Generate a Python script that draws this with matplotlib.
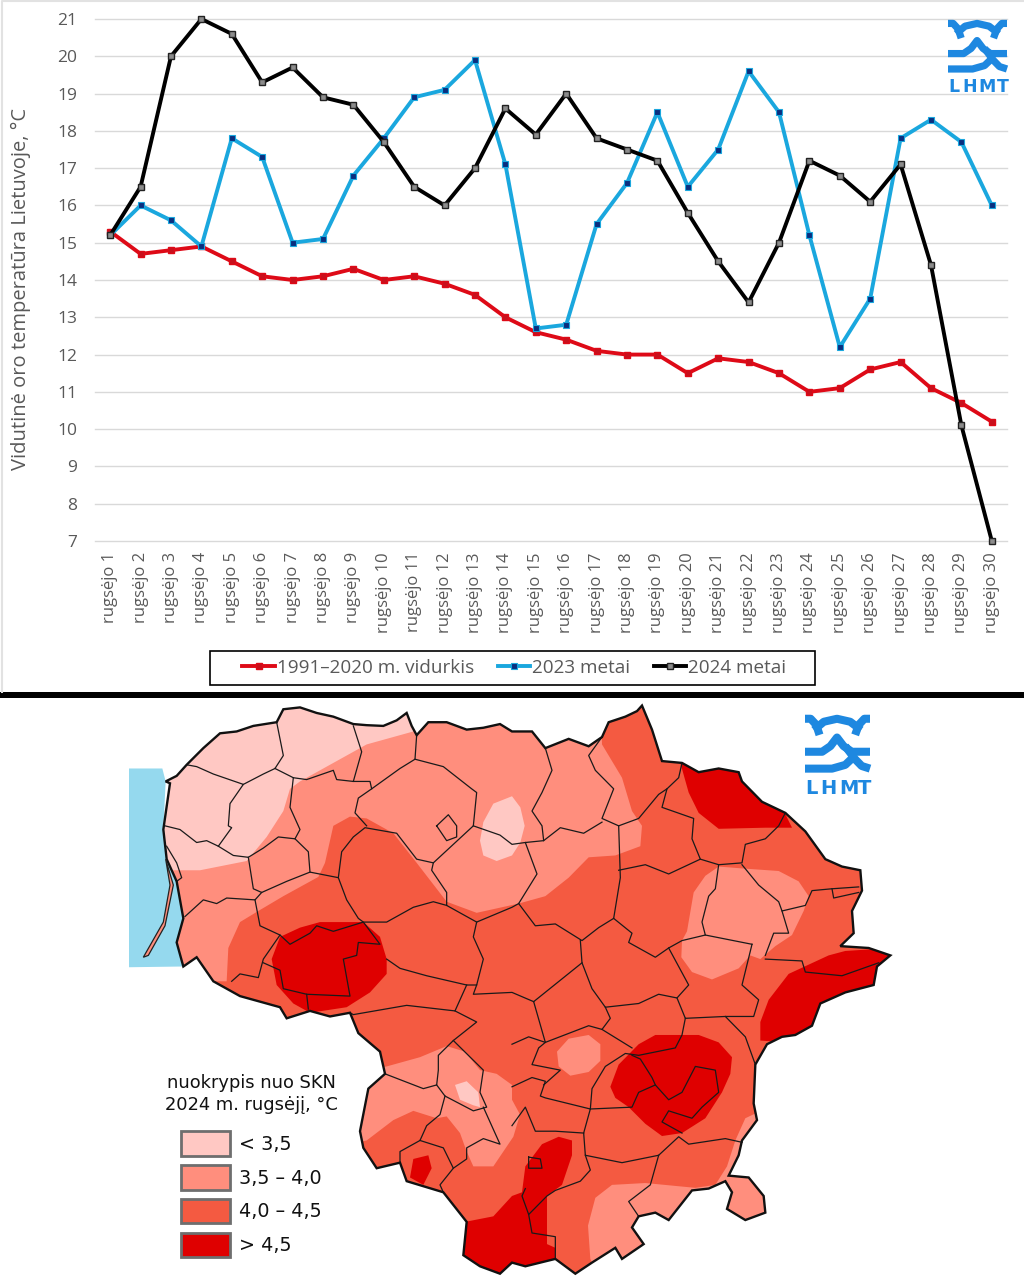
import matplotlib
matplotlib.use("Agg")
import matplotlib.pyplot as plt
from matplotlib.lines import Line2D
from matplotlib.patches import Polygon, Rectangle

W, H = 1024, 1280
plt.rcParams['font.family'] = ['Open Sans', 'DejaVu Sans']

# ---------- line chart data ----------
day_numbers = list(range(1, 31))
day_labels = [f"rugsėjo {d}" for d in day_numbers]
avg_1991_2020 = [15.3, 14.7, 14.8, 14.9, 14.5, 14.1, 14.0, 14.1, 14.3, 14.0, 14.1, 13.9, 13.6, 13.0, 12.6,
                 12.4, 12.1, 12.0, 12.0, 11.5, 11.9, 11.8, 11.5, 11.0, 11.1, 11.6, 11.8, 11.1, 10.7, 10.2]
temp_2023 = [15.2, 16.0, 15.6, 14.9, 17.8, 17.3, 15.0, 15.1, 16.8, 17.8, 18.9, 19.1, 19.9, 17.1, 12.7,
             12.8, 15.5, 16.6, 18.5, 16.5, 17.5, 19.6, 18.5, 15.2, 12.2, 13.5, 17.8, 18.3, 17.7, 16.0]
temp_2024 = [15.2, 16.5, 20.0, 21.0, 20.6, 19.3, 19.7, 18.9, 18.7, 17.7, 16.5, 16.0, 17.0, 18.6, 17.9,
             19.0, 17.8, 17.5, 17.2, 15.8, 14.5, 13.4, 15.0, 17.2, 16.8, 16.1, 17.1, 14.4, 10.1, 7.0]
y_ticks = list(range(7, 22))
series_names = ["1991–2020 m. vidurkis", "2023 metai", "2024 metai"]

# ---------- map data (coordinates of a 3072 x 1567 map grid) ----------
def R(*pts):
    return [(x + 1536, y) for x, y in pts]

outline = [(497,220),(530,205),(560,175),(610,130),(660,90),(710,85),(760,70),(830,60),(850,25),(900,20),(950,35),(1000,45),(1060,65),(1100,68),
           (1150,70),(1190,55),(1220,35),(1235,70),(1250,95),(1285,60),(1340,60),(1400,80),(1450,75),(1500,65),(1536,85)] + \
    R((30,85),(60,85),(100,130),(170,105),(230,125),(270,100),(290,60),(340,45),(375,30),(390,15),(420,80),(450,165),(510,170),(560,195),(620,185),(680,195),
      (690,220),(750,275),(820,305),(880,355),(940,430),(990,450),(1045,460),(1050,515),(1020,570),(1025,630),(985,665),(1070,670),(1135,690),
      (1095,720),(1085,770),(1000,790),(925,820),(900,880),(850,905),(810,910),(765,930),(730,985),(725,1090),(735,1135),(690,1190),
      (680,1230),(650,1285),(710,1290),(755,1340),(760,1385),(700,1405),(645,1375),(660,1330),(640,1300),(590,1320),(540,1325),(470,1405),(430,1385),
      (380,1395),(360,1425),(395,1470),(330,1510),(310,1480),(240,1520),(190,1550),(130,1510),(40,1530),(0,1520)) + \
    [(1500,1550),(1440,1530),(1390,1500),(1400,1410),(1330,1330),(1220,1300),(1200,1250),(1130,1265),(1090,1210),(1080,1165),(1105,1050),(1155,1010),
     (1140,950),(1075,900),(1050,845),(990,855),(930,840),(860,860),(840,830),(720,800),(640,760),(590,695),(550,720),(530,655),
     (550,590),(530,490),(500,430),(490,350),(510,225)]

sea = [(387,185),(487,185),(497,220),(490,350),(500,430),(530,490),(550,590),(530,655),(550,720),(387,722)]
spit = [(497,430),(510,500),(490,600),(430,695),(445,690),(495,610),(520,500)]

band_35_40 = [
    [(400,760),(680,760),(685,670),(720,600),(775,570),(850,530),(955,478),(975,440),(1000,340),(1050,315),(1100,320),(1180,360),(1250,440),
     (1340,545),(1430,575)] + R((20,550),(100,530),(170,480),(230,425),(310,420),(385,395),(390,340),(360,300),(330,210),(270,120),(265,0)) + [(400,0)],
    R((620,450),(690,455),(800,462),(860,490),(890,530),(875,570),(840,635),(790,665),(745,700),(715,690),(680,725),(600,755),(540,735),(508,695),
      (510,650),(525,625),(545,520),(580,475)),
    R((135,950),(170,915),(230,905),(265,930),(265,975),(230,1005),(175,1015),(140,990)),
    [(1100,1000),(1160,990),(1260,965),(1340,935),(1395,950),(1440,1000),(1490,1010),(1536,1040),(1536,1080),(1560,1120),(1540,1180),(1510,1220),
     (1480,1260),(1420,1260),(1400,1220),(1380,1170),(1340,1125),(1310,1130),(1240,1110),(1180,1135),(1100,1190),(1050,1200),(1050,1100)],
    R((235,1510),(228,1420),(250,1345),(300,1310),(400,1305),(550,1318),(610,1310),(645,1260),(670,1190),(700,1130),(735,1115),(800,1130),
      (800,1450),(400,1560),(245,1530)),
]
band_below_35 = [
    [(400,450),(520,460),(600,460),(740,435),(800,370),(850,300),(870,240),(900,220),(960,190),(1050,145),(1100,120),(1240,85),(1240,0),(400,0)],
    [(1450,330),(1480,280),(1536,260)] + R((25,290),(38,340),(25,385),(0,420)) + [(1490,435),(1450,420),(1440,380)],
    [(1365,1040),(1400,1030),(1435,1060),(1440,1100),(1420,1095),(1380,1080)],
]
band_above_45 = [
    [(815,700),(840,640),(900,615),(960,600),(1090,600),(1140,640),(1160,700),(1160,740),(1110,790),(1040,830),(930,845),(880,820),(830,770)],
    R((505,170),(530,250),(560,305),(620,348),(760,345),(840,345),(810,290),(700,200),(600,150)),
    R((745,920),(745,870),(770,810),(830,740),(890,715),(950,690),(1000,678),(1140,670),(1140,800),(900,930)),
    R((295,1045),(320,985),(380,930),(430,905),(560,905),(620,925),(660,965),(655,1010),(630,1060),(580,1130),(510,1170),(450,1178),(400,1145),(350,1100),(310,1075)),
    R((180,1190),(140,1180),(90,1200),(40,1260),(30,1330),(0,1340)) + [(1480,1395),(1395,1410),(1380,1520),(1520,1560)] + R((130,1540),(130,1480),(105,1470),(105,1340),(150,1310),(180,1230)),
    [(1240,1240),(1285,1230),(1295,1265),(1270,1310),(1230,1290)],
]

districts = [
    [(830,60),(850,150),(825,185),(790,200),(730,228)],
    [(560,175),(590,180),(640,200),(730,228),(690,280),(685,340),(695,345),(655,395),(620,380),(590,385),(540,350),(495,340)],
    [(825,185),(880,210),(920,215),(1000,190),(1010,215),(1060,220),(1085,140),(1060,70)],
    [(1060,220),(1110,220),(1115,240),(1200,185),(1245,160),(1250,95)],
    [(880,210),(870,290),(900,350),(885,375),(835,370),(790,400),(745,425),(700,420),(655,395)],
    [(745,425),(760,510),(785,520),(860,490),(930,465),(1015,480),(1025,410),(1060,370),(1095,345),(1190,360),(1250,430),(1300,440),(1420,340),(1430,250),(1415,240),(1330,180),(1245,160)],
    [(1115,240),(1075,265),(1065,305),(1100,340)],
    [(930,465),(925,410),(885,375)],
    [(500,395),(530,440),(545,480),(530,490)],
    [(785,520),(765,540),(680,535),(650,550),(610,540),(555,585)],
    [(765,540),(780,610),(840,635),(790,700),(775,750),(720,740),(695,760)],
    [(790,710),(840,730),(850,780),(920,795),(925,835)],
    [(920,795),(1050,800),(1030,700),(1070,690),(1075,655),(1140,660),(1090,600),(1000,625),(950,610),(930,630),(870,660),(840,635)],
    [(1015,480),(1040,540),(1075,590),(1090,600),(1160,600),(1240,560),(1300,545),(1340,555),(1430,600),(1420,640),(1450,700),(1430,770),(1400,770),(1280,745),(1200,725),(1160,700)],
    [(1300,440),(1295,460),(1340,520),(1340,555)],
    [(1400,770),(1365,840),(1220,825),(1060,850),(1050,845)],
    [(1365,840),(1430,870),(1360,920),(1315,960),(1315,1000),(1310,1040),(1270,1050),(1155,1010)],
    [(1360,920),(1450,1000),(1440,1060),(1460,1100),(1420,1110),(1335,1070),(1310,1040)],
    [(1335,1070),(1320,1120),(1280,1150),(1260,1190),(1200,1220),(1200,1250)],
    [(1260,1190),(1330,1210),(1360,1265),(1320,1310),(1330,1330)],
    [(1360,1265),(1400,1240),(1400,1210),(1450,1185),(1500,1200),(1470,1140),(1450,1100)],
    [(1310,340),(1345,310),(1370,340),(1370,370),(1340,380),(1310,340)],
    [(1430,600),(1536,560)] + R((20,550)),
    [(1430,770),(1420,795),(1536,790)] + R((65,815)),
    [(1420,340),(1500,365),(1536,390)] + R((40,385)),
    R((100,130),(120,190),(90,250),(60,300),(90,340),(95,380),(40,385),(75,470),(20,550),(70,610),(130,605),(210,650),(260,615),(305,590),(325,480),(320,340),(270,320),(305,240),(250,190),(230,150),(270,100)),
    R((95,380),(145,345),(215,360),(270,330)),
    R((320,340),(380,320),(440,255),(465,240),(500,210),(510,170)),
    R((465,240),(450,290),(545,320),(540,375),(565,430),(470,470),(400,445),(320,460)),
    R((565,430),(620,445),(690,440),(700,390),(760,375),(800,340),(820,305)),
    R((620,445),(610,510),(590,530),(570,600),(580,635),(510,650),(470,670),(430,695),(350,655),(360,630),(305,590)),
    R((690,445),(740,500),(800,545),(810,570),(880,555),(900,515),(960,510),(1040,505)),
    R((810,570),(830,630),(785,630),(760,690)),
    R((720,660),(580,635)),
    R((720,660),(690,770),(740,810),(725,855),(640,855),(700,910),(730,985)),
    R((760,700),(870,705),(880,735),(990,745),(1100,710)),
    R((205,650),(210,710),(240,780),(280,830),(380,820),(440,795),(495,805),(530,770),(470,670)),
    R((495,805),(520,860),(640,855)),
    R((520,860),(510,905),(490,940),(380,960),(340,955),(280,990),(240,1050),(235,1105),(100,1075),(85,1070),(100,1030),(60,1020),(0,1045)),
    R((280,830),(295,860),(270,890),(230,880),(100,925),(65,815),(210,710)),
    R((270,890),(360,940)),
    R((100,925),(80,940),(60,985),(145,1000),(95,1040)),
    R((100,925),(50,910),(0,930)),
    R((235,1105),(360,1100),(380,1060),(430,1040),(470,1080),(510,1060),(550,990),(610,1000),(620,1060),(570,1100),(540,1130),(470,1110),(450,1140),(510,1170)),
    R((360,960),(385,970),(420,1020),(430,1040)),
    R((235,1105),(215,1170),(220,1230),(330,1250),(440,1230),(500,1180),(530,1200),(640,1185),(690,1195)),
    R((440,1230),(415,1310),(350,1355),(380,1395)),
    R((215,1170),(130,1165),(70,1165),(40,1100),(0,1150)),
    R((220,1230),(235,1270),(205,1300),(130,1325),(105,1340),(50,1390),(30,1340),(40,1320)),
    R((50,1390),(60,1440),(130,1450),(130,1510)),
    R((50,1235),(85,1240),(90,1265),(50,1265),(50,1235)),
    R((960,510),(965,535),(1040,520)),
]

band_labels = ["< 3,5", "3,5 – 4,0", "4,0 – 4,5", "> 4,5"]
band_colors = ["#FFC8C3", "#FF8E7D", "#F45A41", "#DF0000"]
legend_title = "nuokrypis nuo SKN\n2024 m. rugsėjį, °C"
logo_text = "LHMT"
logo_strokes = [
    [(878,52),(895,52),(912,68),(922,95)],
    [(1075,52),(1058,52),(1041,68),(1030,95)],
    [(905,82),(935,60),(975,52),(1015,60),(1048,82)],
    [(878,140),(930,140),(955,125),(975,102),(995,125),(1020,140),(1075,140)],
    [(878,185),(960,185),(1000,175),(1030,150)],
    [(1000,125),(1030,160),(1050,178),(1075,185)],
]

fig = plt.figure(figsize=(W / 100, H / 100), dpi=100, facecolor="white")

def rect_px(x0, y0, x1, y1):
    return [x0 / W, 1 - y1 / H, (x1 - x0) / W, (y1 - y0) / H]

# ---------- panel decoration ----------
fig.add_artist(Rectangle((0, 1 - 698 / H), 1, 6 / H, transform=fig.transFigure, fc="black", ec="none"))
fig.add_artist(Line2D([2 / W, 2 / W, 1], [1 - 692 / H, 1 - 1 / H, 1 - 1 / H], transform=fig.transFigure, color="#E2E2E2", lw=1.5))

# ---------- line chart ----------
ax = fig.add_axes(rect_px(95, 19, 1007, 541))
ax.set_xlim(0.5, 30.5)
ax.set_ylim(7, 21)
ax.set_yticks(y_ticks)
ax.set_xticks(day_numbers)
ax.set_xticklabels(day_labels, rotation=90, fontsize=12, color="#595959")
ax.set_yticklabels([str(v) for v in y_ticks], fontsize=12.5, color="#595959")
ax.tick_params(axis="both", length=0)
ax.tick_params(axis="x", pad=8)
ax.tick_params(axis="y", pad=13)
ax.grid(axis="y", color="#D9D9D9", lw=1)
for gl in ax.get_ygridlines():
    gl.set_clip_on(False)
ax.set_axisbelow(True)
for s in ax.spines.values():
    s.set_visible(False)
ax.patch.set_alpha(0)

h1, = ax.plot(day_numbers, avg_1991_2020, color="#DE0A17", lw=2.8, marker="s", ms=5, mfc="#C8101C", mec="#DE0A17", clip_on=False, zorder=3)
h2, = ax.plot(day_numbers, temp_2023, color="#1AA7DE", lw=2.8, marker="s", ms=5, mfc="#0A2E7E", mec="#1AA7DE", mew=0.8, clip_on=False, zorder=4)
h3, = ax.plot(day_numbers, temp_2024, color="black", lw=2.8, marker="s", ms=4.8, mfc="#8C8C8C", mec="#222222", mew=1, clip_on=False, zorder=5)

fig.text(21 / W, 1 - 289 / H, "Vidutinė oro temperatūra Lietuvoje, °C", rotation=90, ha="center", va="center", fontsize=14.5, color="#595959")

fig.add_artist(Rectangle((210 / W, 1 - 685 / H), 605 / W, 34 / H, transform=fig.transFigure, fc="white", ec="black", lw=1.2))
leg = fig.legend([h1, h2, h3], series_names, loc="center", bbox_to_anchor=(514.5 / W, 1 - 668 / H), ncol=3,
                 frameon=False, fontsize=13.6, handlelength=1.7,
                 handletextpad=0.11, columnspacing=1.27, labelcolor="#595959")

# ---------- map ----------
m = fig.add_axes(rect_px(0, 700, W, H))
m.set_xlim(0, 3072)
m.set_ylim(1567, 0)
m.axis("off")
m.add_patch(Polygon(sea, closed=True, fc="#95D9EE", ec="none", zorder=1))
clip = Polygon(outline, closed=True, transform=m.transData, fc="none", ec="none")
m.add_patch(clip)
m.add_patch(Polygon(outline, closed=True, fc=band_colors[2], ec="none", zorder=2))
for polys, color in ((band_35_40, band_colors[1]), (band_below_35, band_colors[0]), (band_above_45, band_colors[3])):
    for p in polys:
        patch = Polygon(p, closed=True, fc=color, ec="none", zorder=3)
        m.add_patch(patch)
        patch.set_clip_path(clip)
for d in districts:
    xs, ys = zip(*d)
    m.plot(xs, ys, color="#1A1A1A", lw=0.9, solid_joinstyle="round", zorder=4)
m.add_patch(Polygon(outline, closed=True, fc="none", ec="#111111", lw=1.7, zorder=5))
m.add_patch(Polygon(spit, closed=True, fc=band_colors[1], ec="#222222", lw=0.9, zorder=5))

# legend of the map, positioned in the same grid
m.text(755, 1065, legend_title, ha="center", va="center", fontsize=12.9, family=["DejaVu Sans"], color="#111111", linespacing=1.25)
swatch_tops = [1165, 1257, 1348, 1440]
for top, lab, col in zip(swatch_tops, band_labels, band_colors):
    m.add_patch(Rectangle((543, top), 147, 66, fc=col, ec="#6E6E6E", lw=2, zorder=6))
    m.text(718, top + 35, lab, ha="left", va="center", fontsize=13.8, family=["DejaVu Sans"], color="#111111")

# ---------- logos ----------
def logo(rect, fsize, lw):
    a = fig.add_axes(rect, zorder=10)
    a.set_xlim(878, 1075)
    a.set_ylim(258, 42)
    a.axis("off")
    for s in logo_strokes:
        xs, ys = zip(*s)
        a.plot(xs, ys, color="#1E88E0", lw=lw, solid_capstyle="butt", solid_joinstyle="round", clip_on=False)
    for ch, xc in zip(logo_text, (897, 950, 1010, 1060)):
        a.text(xc, 237, ch, ha="center", va="center", fontsize=fsize, fontweight="bold", color="#1E88E0", family=["DejaVu Sans"])

logo(rect_px(948, 20, 1007, 94), 12.5, 5.2)
logo(rect_px(805, 715, 870, 796), 14, 5.8)

fig.savefig("out.png", dpi=100)
